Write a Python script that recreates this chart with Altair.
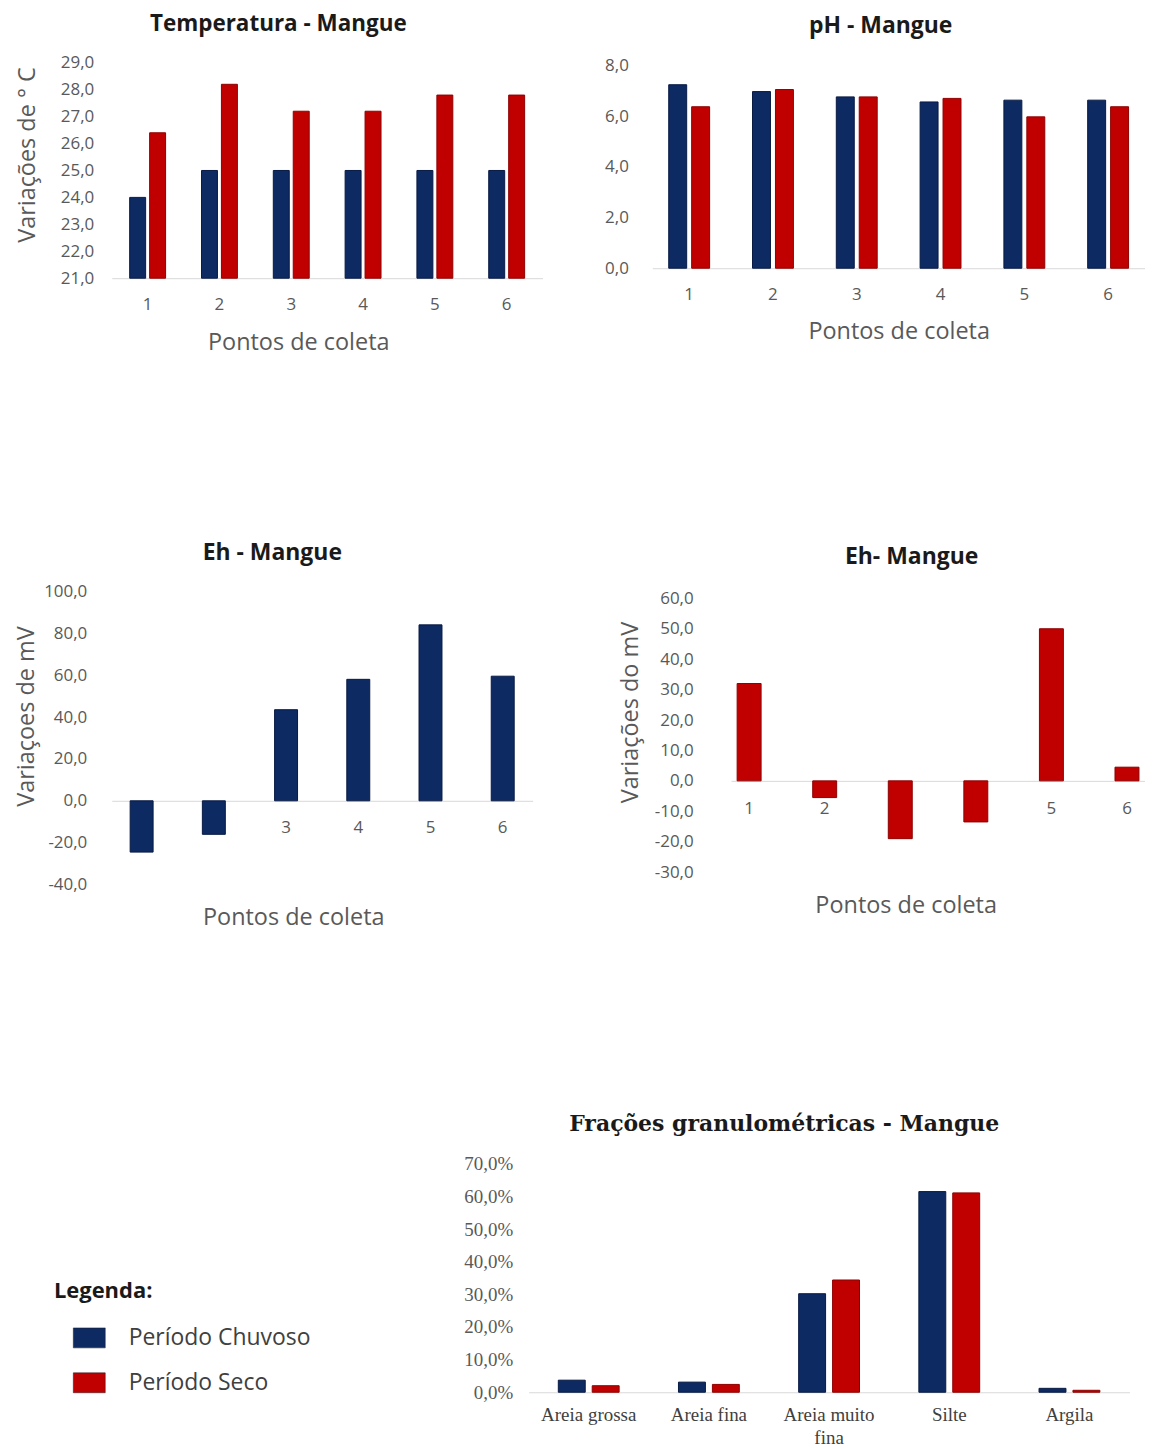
import altair as alt
import pandas as pd

# ---------------- data ----------------
pontos = ["1", "2", "3", "4", "5", "6"]
periodos = ["Período Chuvoso", "Período Seco"]

temp_chuvoso = [24.0, 25.0, 25.0, 25.0, 25.0, 25.0]
temp_seco = [26.4, 28.2, 27.2, 27.2, 27.8, 27.8]

ph_chuvoso = [7.25, 6.98, 6.77, 6.57, 6.64, 6.64]
ph_seco = [6.38, 7.06, 6.77, 6.71, 5.98, 6.38]

eh_chuvoso = [-24.5, -16.0, 43.5, 58.0, 84.0, 59.5]
eh_seco = [32.0, -5.5, -19.0, -13.5, 50.0, 4.5]

fracoes = ["Areia grossa", "Areia fina", "Areia muito fina", "Silte", "Argila"]
gran_chuvoso = [3.7, 3.1, 30.2, 61.5, 1.2]
gran_seco = [2.0, 2.4, 34.4, 61.1, 0.6]

temp_ticks = [21, 22, 23, 24, 25, 26, 27, 28, 29]
ph_ticks = [0, 2, 4, 6, 8]
eh1_ticks = [-40, -20, 0, 20, 40, 60, 80, 100]
eh2_ticks = [-30, -20, -10, 0, 10, 20, 30, 40, 50, 60]
gran_ticks = [0, 10, 20, 30, 40, 50, 60, 70]

# ---------------- style ----------------
SANS = "Open Sans"
SERIF = "Liberation Serif"
SERIF_T = "DejaVu Serif"
FILLS = ["#0d2a62", "#c00000"]
EDGES = ["#081a44", "#8f0000"]
GRID = "#d9d9d9"
LAB = "#595959"
TITLE_C = "#1a1a1a"

NUM_EXPR = "replace(replace(format(datum.value, '.1f'), '.', ','), '\u2212', '-')"
PCT_EXPR = "replace(format(datum.value, '.1f'), '.', ',') + '%'"

# panel plot sizes (pixels)
TW, TH = 432, 216        # temperatura
PW, PH = 494, 203        # pH
E1W, E1H = 422, 294      # Eh chuvoso
E2W, E2H = 415, 274.5    # Eh seco
GW, GH = 602.5, 229      # granulometria

color_scale = alt.Scale(domain=periodos, range=FILLS)


def long_df(cats, chuvoso, seco, cat_name):
    rows = []
    for per, vals in zip(periodos, [chuvoso, seco]):
        for c, v in zip(cats, vals):
            rows.append({cat_name: c, "Período": per, "Valor": v})
    return pd.DataFrame(rows)


def ttl(text, dx, offset, font=SANS, size=23):
    return alt.TitleParams(text, font=font, fontSize=size, fontWeight="bold",
                           color=TITLE_C, anchor="middle", dx=dx, offset=offset)


def spacer(w, h):
    return alt.Chart(pd.DataFrame({"s": [0]})).mark_point(opacity=0).encode(
        x=alt.value(0), y=alt.value(0)).properties(width=w, height=h)


def base_offset(H, lo, hi, at=None):
    # distance from the 1px cell bottom down to the level where the x axis sits
    level = lo if at is None else at
    return H * (hi - level) / (hi - lo) - 1


def grouped(df, x, y, bar_w, half_gap, legend=None, y2=None):
    """Two side-by-side bars per category: Chuvoso on the left, Seco on the right."""
    layers = []
    for i, per in enumerate(periodos):
        enc = dict(x=x, y=y, color=alt.Color("Período:N", scale=color_scale, legend=legend))
        if y2 is not None:
            enc["y2"] = y2
        sign = -1 if i == 0 else 1
        layers.append(
            alt.Chart(df).transform_filter(alt.datum["Período"] == per).mark_bar(
                width=bar_w, xOffset=sign * (bar_w / 2 + half_gap),
                stroke=EDGES[i], strokeWidth=1).encode(**enc))
    return alt.layer(*layers)


# ---------------- Temperatura ----------------
temp_df = long_df(pontos, temp_chuvoso, temp_seco, "Ponto")
temp = grouped(
    temp_df,
    alt.X("Ponto:N", sort=pontos,
          scale=alt.Scale(range=[0, TW], paddingInner=0.5, paddingOuter=0.25),
          axis=alt.Axis(title="Pontos de coleta", labelAngle=0, labelPadding=26,
                        labelBaseline="middle", domainColor=GRID,
                        offset=base_offset(TH, 21, 29),
                        titleX=187, titleY=64, titleBaseline="middle")),
    alt.Y("Valor:Q", scale=alt.Scale(domain=[21, 29], range=[TH, 0], nice=False, zero=False),
          axis=alt.Axis(values=temp_ticks, labelExpr=NUM_EXPR, domain=False,
                        labelPadding=18, title="Variações de ° C",
                        titleX=-84, titleY=92, titleBaseline="middle")),
    16, 2, y2=alt.datum(21),
).properties(width=1, height=1, title=ttl("Temperatura - Mangue", 166.5, 18, size=22.5))

# ---------------- pH ----------------
ph_df = long_df(pontos, ph_chuvoso, ph_seco, "Ponto")
ph = grouped(
    ph_df,
    alt.X("Ponto:N", sort=pontos,
          scale=alt.Scale(range=[0, PW], paddingInner=0.512, paddingOuter=0.196),
          axis=alt.Axis(title="Pontos de coleta", labelAngle=0, labelPadding=26,
                        labelBaseline="middle", domainColor=GRID,
                        offset=base_offset(PH, 0, 8),
                        titleX=247, titleY=63, titleBaseline="middle")),
    alt.Y("Valor:Q", scale=alt.Scale(domain=[0, 8], range=[PH, 0], nice=False),
          axis=alt.Axis(values=ph_ticks, labelExpr=NUM_EXPR, domain=False,
                        labelPadding=24, title="")),
    18, 2.5,
).properties(width=1, height=1, title=ttl("pH - Mangue", 228.5, 19))


# ---------------- Eh charts (x axis sits on the zero line) ----------------
def eh_chart(values, ticks, domain, W, H, pi, po, lab_pad, ytitle, ytx, yty,
             xtx, xty, xlab_pad, k, title, tdx, toff):
    df = pd.DataFrame({"Ponto": pontos, "Valor": values})
    return alt.Chart(df).mark_bar(color=FILLS[k], stroke=EDGES[k], strokeWidth=1).encode(
        x=alt.X("Ponto:N", sort=pontos,
                scale=alt.Scale(range=[0, W], paddingInner=pi, paddingOuter=po),
                axis=alt.Axis(title="Pontos de coleta", labelAngle=0,
                              labelPadding=xlab_pad, labelBaseline="middle",
                              domainColor=GRID,
                              offset=base_offset(H, domain[0], domain[1], at=0),
                              titleX=xtx, titleY=xty, titleBaseline="middle")),
        y=alt.Y("Valor:Q", scale=alt.Scale(domain=domain, range=[H, 0], nice=False, zero=False),
                axis=alt.Axis(values=ticks, labelExpr=NUM_EXPR, domain=False,
                              labelPadding=lab_pad, title=ytitle, titleX=ytx,
                              titleY=yty, titleBaseline="middle")),
    ).properties(width=1, height=1, title=ttl(title, tdx, toff))


eh1 = eh_chart(eh_chuvoso, eh1_ticks, [-40, 100], E1W, E1H, 0.682, 0.255, 25,
               "Variaçoes de mV", -85, 125, 182, 117, 27, 0,
               "Eh - Mangue", 160.5, 17)
eh2 = eh_chart(eh_seco, eh2_ticks, [-30, 60], E2W, E2H, 0.683, 0.08, 38,
               "Variações do mV", -101, 114, 175, 125, 28, 1,
               "Eh- Mangue", 180.5, 20)

# ---------------- Frações granulométricas ----------------
gran_df = long_df(fracoes, gran_chuvoso, gran_seco, "Fração")
gran_legend = alt.Legend(title="Legenda:", orient="none", legendX=-476, legendY=118,
                         titleFont=SANS, titleFontSize=22, titleFontWeight="bold",
                         titleColor=TITLE_C, titlePadding=23, labelFont=SANS,
                         labelFontSize=23, labelColor="#404040", labelLimit=500,
                         symbolType="M-1.6,-1H1.6V1H-1.6Z", symbolSize=400,
                         symbolOffset=24, symbolStrokeColor="#1a1a1a",
                         symbolStrokeWidth=0.5, labelOffset=28, rowPadding=21)
gran = grouped(
    gran_df,
    alt.X("Fração:N", sort=fracoes,
          scale=alt.Scale(range=[0, GW], paddingInner=0.485, paddingOuter=0.2425),
          axis=alt.Axis(title="", labelAngle=0, labelFont=SERIF, labelFontSize=19,
                        labelColor="#404040", labelPadding=13, labelLineHeight=23,
                        labelExpr="datum.value == 'Areia muito fina' ? ['Areia muito', 'fina'] : datum.label",
                        domainColor=GRID, offset=base_offset(GH, 0, 70))),
    alt.Y("Valor:Q", scale=alt.Scale(domain=[0, 70], range=[GH, 0], nice=False),
          axis=alt.Axis(values=gran_ticks, labelExpr=PCT_EXPR, labelFont=SERIF,
                        labelFontSize=19, domain=False, labelPadding=16, title="")),
    27, 3.5, legend=gran_legend,
).properties(width=1, height=1,
             title=ttl("Frações granulométricas - Mangue", 255.75, 19, font=SERIF_T, size=22))

# ---------------- layout grid: columns/rows sized by spacers ----------------
# column starts: 110 (temp, Eh chuvoso), 527.75 (granulometria), 651 (pH), 730 (Eh seco)
# row starts:    61 (temp), 64 (pH), 591 (Eh chuvoso), 598 (Eh seco), 1165 (granulometria)
cells = [
    temp,                spacer(123.25, 3), spacer(79, 1), spacer(1, 1),
    spacer(417.75, 527), spacer(1, 1),      ph,            spacer(1, 1),
    eh1,                 spacer(1, 7),      spacer(1, 1),  spacer(1, 1),
    spacer(1, 567),      spacer(1, 1),      spacer(1, 1),  eh2,
    spacer(1, 1),        gran,              spacer(1, 1),  spacer(1, 1),
]

chart = alt.concat(*cells, columns=4, spacing=0).properties(
    align="each", bounds="flush",
    padding={"left": 6, "top": 3, "right": 0, "bottom": 0},
).resolve_scale(
    color="independent"
).resolve_legend(
    color="independent"
).configure_view(strokeWidth=0).configure_axis(
    grid=False, ticks=False, tickSize=0, labelFont=SANS, labelFontSize=17,
    labelColor=LAB, titleFont=SANS, titleFontSize=23.5, titleFontWeight="normal",
    titleColor=LAB, domainColor=GRID, domainWidth=1,
).configure_title(font=SANS)

chart.save("out.html", embed_options={"renderer": "svg", "actions": False})
